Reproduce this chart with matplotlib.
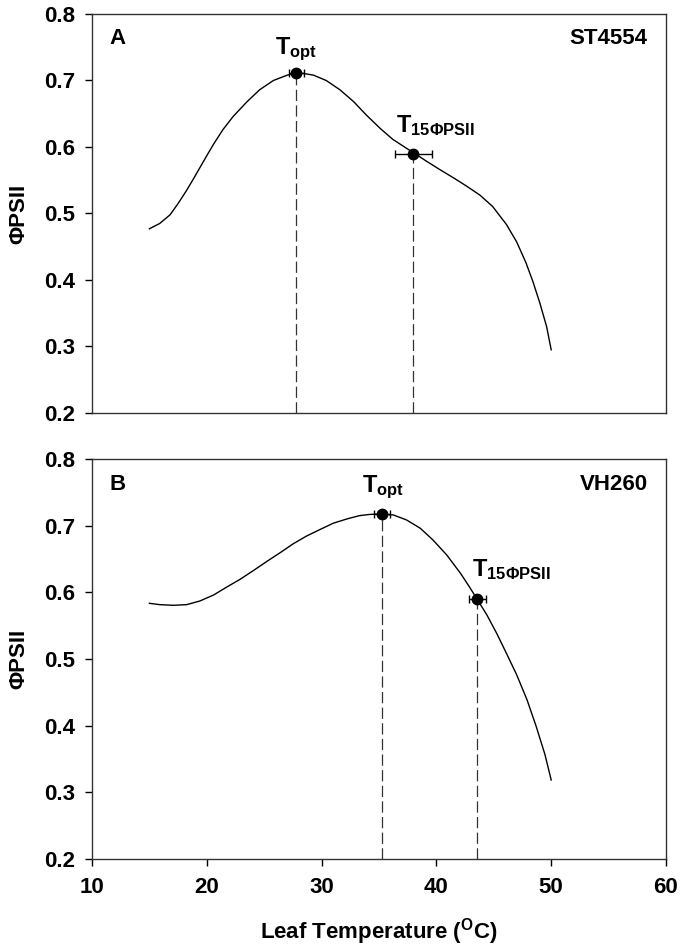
import matplotlib
matplotlib.use("Agg")
import matplotlib.pyplot as plt

plt.rcParams['font.family'] = ['Liberation Sans', 'DejaVu Sans']
plt.rcParams['font.weight'] = 'bold'
plt.rcParams['mathtext.fontset'] = 'custom'
plt.rcParams['mathtext.rm'] = 'Liberation Sans:bold'
plt.rcParams['mathtext.it'] = 'Liberation Sans:bold'
plt.rcParams['mathtext.bf'] = 'Liberation Sans:bold'

# Panel A: ST4554 fitted curve (leaf temperature, PhiPSII)
temp_a = [15.0, 15.9, 16.8, 17.5, 18.25, 18.8, 19.4, 20.0, 20.6, 21.4, 22.3,
          23.5, 24.6, 25.8, 27.0, 27.8, 28.1, 29.3, 30.4, 31.6, 32.8, 33.9,
          35.1, 36.2, 37.4, 38.1, 39.1, 40.3, 41.5, 42.6, 43.8, 44.9, 46.1,
          47.0, 47.8, 48.4, 49.0, 49.6, 50.0]
phi_a = [0.477, 0.485, 0.498, 0.515, 0.535, 0.551, 0.569, 0.587, 0.6045, 0.626,
         0.646, 0.668, 0.686, 0.700, 0.708, 0.711, 0.7115, 0.708, 0.700, 0.686,
         0.668, 0.648, 0.628, 0.6115, 0.598, 0.5905, 0.579, 0.566, 0.5535, 0.5415,
         0.5275, 0.5105, 0.4835, 0.457, 0.426, 0.398, 0.366, 0.330, 0.295]

# Panel B: VH260 fitted curve
temp_b = [15.0, 15.9, 17.1, 18.25, 19.4, 20.6, 21.7, 22.9, 24.05, 25.2, 26.4,
          27.5, 28.7, 29.9, 31.0, 32.2, 33.3, 34.2, 35.1, 36.25, 37.4, 38.6,
          39.7, 40.9, 42.1, 42.9, 43.5, 44.4, 45.25, 46.1, 47.0, 47.9, 48.7,
          49.45, 50.0]
phi_b = [0.5835, 0.5815, 0.5805, 0.5815, 0.587, 0.596, 0.6075, 0.6195, 0.6325,
         0.646, 0.6595, 0.6725, 0.6845, 0.6945, 0.7035, 0.710, 0.715, 0.7168,
         0.7175, 0.716, 0.7085, 0.696, 0.6785, 0.656, 0.6285, 0.6075, 0.591,
         0.566, 0.5385, 0.5085, 0.476, 0.4385, 0.3985, 0.357, 0.3185]

# Key points: [Topt, T15PSII] with x standard errors
pts_a_x = [27.8, 38.0]
pts_a_y = [0.712, 0.590]
pts_a_err = [0.65, 1.6]

pts_b_x = [35.3, 43.55]
pts_b_y = [0.717, 0.590]
pts_b_err = [0.7, 0.75]

panel_letters = ['A', 'B']
cultivars = ['ST4554', 'VH260']
xticks = [10, 20, 30, 40, 50, 60]
yticks = [0.2, 0.3, 0.4, 0.5, 0.6, 0.7, 0.8]

FS = 16
LFS = 16

fig = plt.figure(figsize=(6.8, 9.52), dpi=100)
ax_a = fig.add_axes([0.1353, 0.5662, 0.8441, 0.4191])
ax_b = fig.add_axes([0.1353, 0.0977, 0.8441, 0.4202])

panels = [
    (ax_a, temp_a, phi_a, pts_a_x, pts_a_y, pts_a_err,
     (27.8, 0.740), (36.5, 0.6225), 0.755),
    (ax_b, temp_b, phi_b, pts_b_x, pts_b_y, pts_b_err,
     (35.35, 0.750), (43.07, 0.625), 0.7535),
]

for i, (ax, tx, phi, px, py, pe, pos_opt, pos_15, yletter) in enumerate(panels):
    ax.plot(tx, phi, color='black', lw=1.0, solid_joinstyle='round')
    for xx, yy in zip(px, py):
        ax.plot([xx, xx], [0.2, yy], color='#333333', lw=0.9,
                dashes=(9, 3.5))
    ax.errorbar(px, py, xerr=pe, fmt='o', color='black', ms=7.5,
                ecolor='black', elinewidth=1.0, capsize=3, capthick=1.0,
                zorder=5)
    ax.text(pos_opt[0], pos_opt[1], r'T$_{\mathrm{opt}}$',
            ha='center', va='baseline', fontsize=17, fontweight='bold')
    ax.text(pos_15[0], pos_15[1], r'T$_{\mathrm{15ΦPSII}}$',
            ha='left', va='baseline', fontsize=17, fontweight='bold')
    ax.text(11.5, yletter, panel_letters[i], ha='left', va='baseline',
            fontsize=LFS, fontweight='bold')
    ax.text(58.4, yletter, cultivars[i], ha='right', va='baseline',
            fontsize=LFS, fontweight='bold')
    ax.set_xlim(10, 60)
    ax.set_ylim(0.2, 0.8)
    ax.set_yticks(yticks)
    ax.set_yticklabels([f'{v:.1f}' for v in yticks])
    ax.set_ylabel('ΦPSII', fontsize=LFS, fontweight='bold', labelpad=11)
    ax.tick_params(axis='y', direction='out', length=5, width=1,
                   labelsize=FS, pad=7)
    for s in ax.spines.values():
        s.set_color('#333333')
        s.set_linewidth(1.0)

ax_a.set_xticks([])
ax_b.set_xticks(xticks)
ax_b.set_xticklabels([str(v) for v in xticks])
ax_b.tick_params(axis='x', direction='out', length=5, width=1,
                 labelsize=FS, pad=8)
ax_b.set_xlabel(r'Leaf Temperature ($^{\mathrm{O}}$C)', fontsize=LFS,
                fontweight='bold', labelpad=13)

fig.savefig('out.png', dpi=100)
